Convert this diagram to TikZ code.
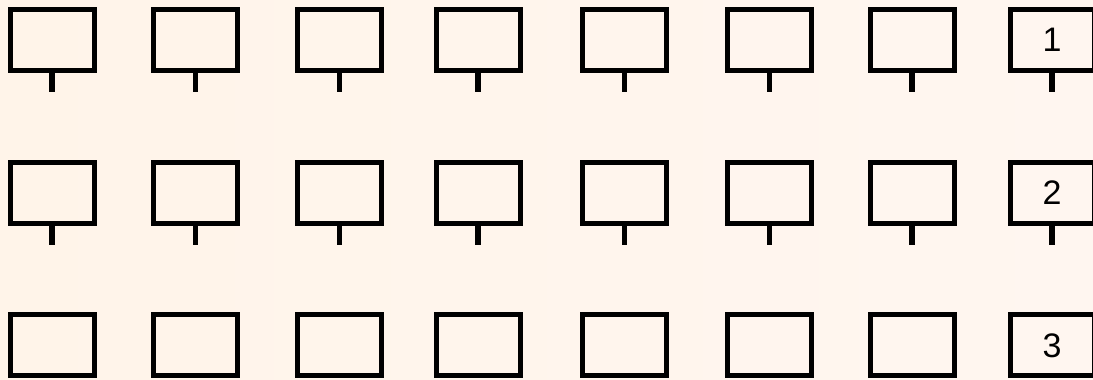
\documentclass[tikz,border=0pt]{standalone}
\usepackage{fontspec}
\setmainfont{Liberation Sans}
\definecolor{bgL}{HTML}{FFF4E9}
\definecolor{bgR}{HTML}{FFF6F0}
\tikzset{
  frame/.style={draw=black, line width=5pt, rectangle, minimum width=84pt, minimum height=61pt, inner sep=0pt, font=\fontsize{34}{34}\selectfont},
  stem/.style={draw=black, line width=5.5pt}
}
\begin{document}
\begin{tikzpicture}[x=1pt,y=1pt]
\useasboundingbox (0,0) rectangle (1093,-380);
\shade[left color=bgL, right color=bgR] (0,0) rectangle (1093,-380);
\foreach \r/\y in {1/-39.7, 2/-192.7, 3/-345.3}{
  \foreach \c/\x in {1/52, 2/195.7, 3/339.4, 4/478, 5/624.7, 6/769.5, 7/912}{
    \node[frame] (b-\r-\c) at (\x,\y) {};
  }
  \node[frame] (b-\r-8) at (1052,\y) {\r};
}
\foreach \r/\y in {1/-92, 2/-245.3}{
  \foreach \c/\x in {1/52, 2/195.7, 3/339.4, 4/478, 5/624.7, 6/769.5, 7/912, 8/1052}{
    \coordinate (s-\r-\c) at (\x,\y);
    \draw[stem] (b-\r-\c.south) -- (s-\r-\c);
  }
}
\end{tikzpicture}
\end{document}
